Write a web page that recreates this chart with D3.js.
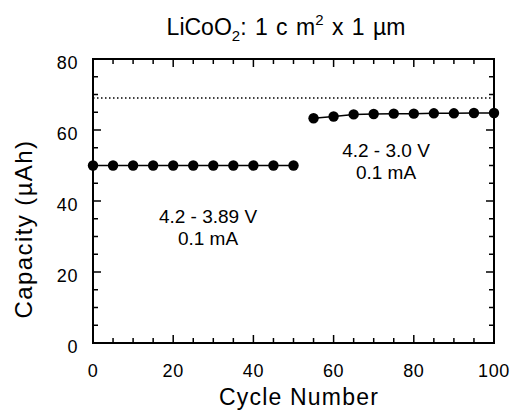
<!DOCTYPE html>
<html>
<head>
<meta charset="utf-8">
<script src="https://cdn.jsdelivr.net/npm/d3@7.9.0/dist/d3.min.js"></script>
<style>
  body { margin: 0; background: #fff; }
  svg { font-family: "Liberation Sans", Arial, sans-serif; }
</style>
</head>
<body>
<svg id="chart" width="513" height="414"></svg>
<script>
// data
const cyclesLow = [0, 5, 10, 15, 20, 25, 30, 35, 40, 45, 50];
const capacityLow = [50, 50, 50, 50, 50, 50, 50, 50, 50, 50, 50];
const cyclesHigh = [55, 60, 65, 70, 75, 80, 85, 90, 95, 100];
const capacityHigh = [63.3, 63.8, 64.4, 64.5, 64.6, 64.6, 64.7, 64.7, 64.8, 64.8];
const theoreticalCapacity = 69;
const xTicks = [0, 20, 40, 60, 80, 100];
const yTicks = [0, 20, 40, 60, 80];

const margin = { top: 59, right: 19, bottom: 71, left: 93 };
const width = 513, height = 414;

let svg = d3.select('#chart');

let x = d3.scaleLinear().domain([0, 100]).range([margin.left, width - margin.right]);
let y = d3.scaleLinear().domain([0, 80]).range([height - margin.bottom, margin.top]);

let minorX = d3.range(0, 101, 5);
let minorY = d3.range(0, 81, 5);

// inward ticks on all four sides
function tickLen(v) { return v % 20 === 0 ? 8 : 5; }

let g = svg.append('g').attr('stroke', '#000').attr('stroke-width', 1.5);
minorX.forEach(v => {
  g.append('line').attr('x1', x(v)).attr('x2', x(v))
    .attr('y1', y(0)).attr('y2', y(0) - tickLen(v));
  g.append('line').attr('x1', x(v)).attr('x2', x(v))
    .attr('y1', y(80)).attr('y2', y(80) + tickLen(v));
});
minorY.forEach(v => {
  g.append('line').attr('y1', y(v)).attr('y2', y(v))
    .attr('x1', x(0)).attr('x2', x(0) + tickLen(v));
  g.append('line').attr('y1', y(v)).attr('y2', y(v))
    .attr('x1', x(100)).attr('x2', x(100) - tickLen(v));
});

// frame
svg.append('rect')
  .attr('x', x(0)).attr('y', y(80))
  .attr('width', x(100) - x(0)).attr('height', y(0) - y(80))
  .attr('fill', 'none').attr('stroke', '#000').attr('stroke-width', 2);

// tick labels
svg.append('g').selectAll('text').data(xTicks).join('text')
  .attr('x', d => x(d)).attr('y', 377)
  .attr('text-anchor', 'middle').attr('font-size', 18)
  .attr('letter-spacing', 0.6)
  .text(d => d);

svg.append('g').selectAll('text').data(yTicks).join('text')
  .attr('x', 78).attr('y', d => y(d) + 10)
  .attr('text-anchor', 'end').attr('font-size', 18)
  .attr('letter-spacing', 0.6)
  .text(d => d);

// dotted reference line
svg.append('line')
  .attr('x1', x(0)).attr('x2', x(100))
  .attr('y1', y(theoreticalCapacity)).attr('y2', y(theoreticalCapacity))
  .attr('stroke', '#000').attr('stroke-width', 1.5)
  .attr('stroke-dasharray', '1.5,2.5');

// series
let line = d3.line().x(d => x(d[0])).y(d => y(d[1]));
[[cyclesLow, capacityLow], [cyclesHigh, capacityHigh]].forEach(([xs, ys]) => {
  let pts = xs.map((c, i) => [c, ys[i]]);
  svg.append('path').attr('d', line(pts))
    .attr('fill', 'none').attr('stroke', '#000').attr('stroke-width', 1.5);
  svg.append('g').selectAll('circle').data(pts).join('circle')
    .attr('cx', d => x(d[0])).attr('cy', d => y(d[1]))
    .attr('r', 5.2).attr('fill', '#000');
});

// annotations
function label(cx, lines, baseY) {
  lines.forEach((t, i) => {
    svg.append('text').attr('x', cx).attr('y', baseY + i * 22)
      .attr('text-anchor', 'middle').attr('font-size', 19).text(t);
  });
}
label(208, ['4.2 - 3.89 V', '0.1 mA'], 223);
label(386, ['4.2 - 3.0 V', '0.1 mA'], 157);

// axis titles
svg.append('text').attr('x', 299).attr('y', 405)
  .attr('text-anchor', 'middle').attr('font-size', 23)
  .attr('letter-spacing', 1.2).text('Cycle Number');

svg.append('text')
  .attr('transform', 'translate(32,229) rotate(-90)')
  .attr('text-anchor', 'middle').attr('font-size', 24)
  .attr('letter-spacing', 1.4).text('Capacity (µAh)');

// title with sub/superscripts
let title = svg.append('text').attr('x', 286).attr('y', 35)
  .attr('text-anchor', 'middle').attr('font-size', 23)
  .attr('word-spacing', 2);
title.append('tspan').text('LiCoO');
title.append('tspan').attr('font-size', 15).attr('dy', 6).text('2');
title.append('tspan').attr('dy', -6).text(': 1 c m');
title.append('tspan').attr('font-size', 15).attr('dy', -10).text('2');
title.append('tspan').attr('dy', 10).text(' x 1 µm');
</script>
</body>
</html>
